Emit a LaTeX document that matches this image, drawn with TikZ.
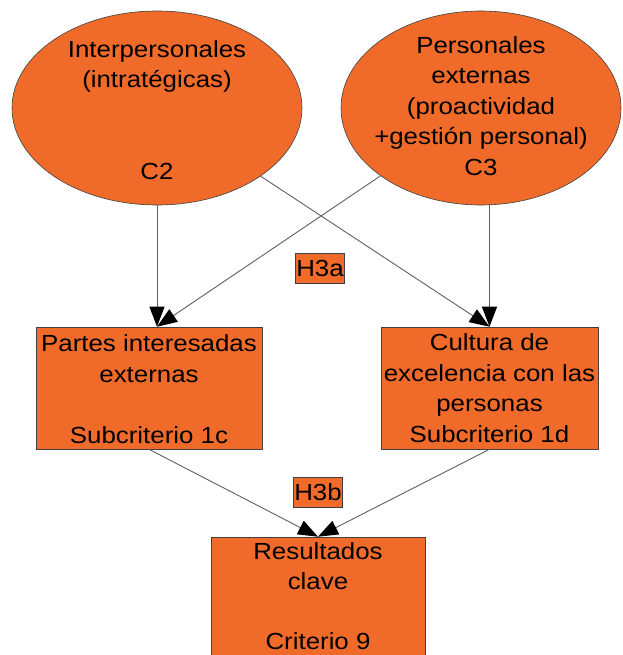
\documentclass[tikz,border=0pt]{standalone}
\usepackage{fontspec}
\setmainfont{Liberation Sans}[FakeStretch=1.11]
\usetikzlibrary{shapes.geometric,arrows.meta}
\definecolor{boxorange}{RGB}{240,107,42}
\definecolor{edgegray}{RGB}{95,95,95}
\tikzset{
  txt/.style={font=\fontsize{23.3}{30.5}\selectfont, align=center, inner sep=0pt},
  oval/.style={ellipse, draw=black!75, line width=0.6pt, fill=boxorange, inner sep=0pt},
  panel/.style={rectangle, draw=black!75, line width=0.6pt, fill=boxorange, inner sep=0pt},
  tag/.style={rectangle, draw=black!75, line width=0.5pt, fill=boxorange,
    font=\fontsize{23.3}{28}\selectfont, inner xsep=1pt, inner ysep=0pt,
    minimum height=30pt, text depth=0pt},
  link/.style={draw=edgegray, line width=0.9pt, -{Triangle[length=20pt,width=15pt,black]}}
}
\begin{document}
\begin{tikzpicture}[x=1pt,y=-1pt]
\useasboundingbox (0,0) rectangle (622,655);
\clip (0,0) rectangle (622,655);

% competences
\node[oval, minimum width=290pt, minimum height=194pt] (c2) at (157,108) {};
\node[oval, minimum width=280pt, minimum height=194pt] (c3) at (481,108) {};
\node[txt] (c2t) at (157,110) {Interpersonales\\(intratégicas)\\~\\~\\C2};
\node[txt] (c3t) at (481,106) {Personales\\externas\\(proactividad\\+gestión personal)\\C3};

% subcriteria
\node[panel, minimum width=226pt, minimum height=122pt] (pa) at (149,388) {};
\node[panel, minimum width=217pt, minimum height=122pt] (cu) at (489.5,388) {};
\node[txt] (pat) at (149,389) {Partes interesadas\\externas\\~\\Subcriterio 1c};
\node[txt] (cut) at (489.5,388) {Cultura de\\excelencia con las\\personas\\Subcriterio 1d};

% key results
\node[panel, minimum width=214pt, minimum height=124pt] (res) at (318,599) {};
\node[txt, font=\fontsize{23.3}{30}\selectfont] (rest) at (318,596) {Resultados\\clave\\~\\Criterio 9};

% hypotheses
\node[tag] (h3a) at (320,268) {H3a};
\node[tag] (h3b) at (318,492) {H3b};

% connectors
\coordinate (pin) at (c2.south |- pa.north);
\draw[link] (c2.south) -- (pin);
\draw[link] (cu.north |- c3.south) -- (cu.north);
\draw[link] (c2) -- (cu.north);
\draw[link] (c3) -- (pin);
\draw[link] (pa.south) -- (res.north);
\draw[link] (cu.south) -- (res.north);
\end{tikzpicture}
\end{document}
